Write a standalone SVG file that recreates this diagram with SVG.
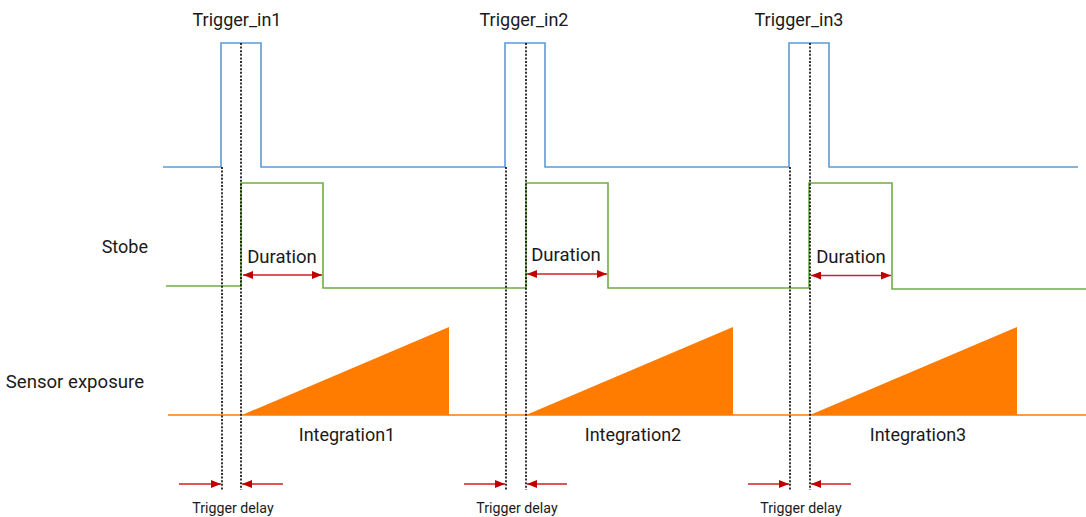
<svg xmlns="http://www.w3.org/2000/svg" width="1086" height="517" viewBox="0 0 1086 517">
<style>
text{font-family:Roboto,"Liberation Sans",sans-serif;fill:#1a1a1a}
.lbl{font-size:18px}
.dur{font-size:18.5px;text-anchor:middle}
.td{font-size:14.2px;text-anchor:middle}
.blue{fill:none;stroke:#5B9BD5;stroke-width:1.6}
.green{fill:none;stroke:#70AD47;stroke-width:1.6}
.orange{fill:none;stroke:#FF7C00;stroke-width:1.6}
.tri{fill:#FF7C00}
.dash{stroke:#000;stroke-width:1.6;stroke-dasharray:2 1.6;fill:none}
.arr{stroke:#D02020;stroke-width:1.4;fill:none}
</style>
<defs>
<marker id="ah" viewBox="0 0 10 8" refX="10" refY="4" markerWidth="10" markerHeight="8" markerUnits="userSpaceOnUse" orient="auto-start-reverse">
<path d="M0,0 L10,4 L0,8 Z" fill="#C00000"/>
</marker>
</defs>
<rect width="1086" height="517" fill="#fff"/>
<g id="trigger-signal">
<path class="blue" d="M163,167 H221 V43 H261 V167 H505 V43 H545 V167 H789 V43 H829 V167 H1078"/>
<text class="lbl" x="237" y="26" text-anchor="middle">Trigger_in1</text>
<text class="lbl" x="524" y="26" text-anchor="middle">Trigger_in2</text>
<text class="lbl" x="799" y="26" text-anchor="middle">Trigger_in3</text>
</g>
<g id="strobe-signal">
<path class="green" d="M166,286 H241 V183 H323 V288 H526 V183 H608 V288 H809 V183 H892 V289 H1086"/>
<text class="lbl" x="148" y="253" text-anchor="end">Stobe</text>
</g>
<g id="exposure-signal">
<line class="orange" x1="168" y1="415" x2="1086" y2="415"/>
<polygon class="tri" points="242,415 449,327 449,415"/>
<polygon class="tri" points="526,415 733,327 733,415"/>
<polygon class="tri" points="810,415 1017,327 1017,415"/>
<text class="lbl" x="144" y="388" text-anchor="end" style="font-size:18.6px">Sensor exposure</text>
<text class="lbl" x="347" y="441" text-anchor="middle">Integration1</text>
<text class="lbl" x="633" y="441" text-anchor="middle">Integration2</text>
<text class="lbl" x="918" y="441" text-anchor="middle">Integration3</text>
</g>
<g id="guides">
<line class="dash" x1="222" y1="167" x2="222" y2="490"/>
<line class="dash" x1="241" y1="43" x2="241" y2="490"/>
<line class="dash" x1="506" y1="167" x2="506" y2="490"/>
<line class="dash" x1="526" y1="43" x2="526" y2="490"/>
<line class="dash" x1="790" y1="167" x2="790" y2="490"/>
<line class="dash" x1="810" y1="43" x2="810" y2="490"/>
</g>
<g id="connectors">
<line class="arr" x1="243" y1="275" x2="322" y2="275" marker-start="url(#ah)" marker-end="url(#ah)"/>
<line class="arr" x1="527" y1="274" x2="607" y2="274" marker-start="url(#ah)" marker-end="url(#ah)"/>
<line class="arr" x1="811" y1="275.5" x2="891" y2="275.5" marker-start="url(#ah)" marker-end="url(#ah)"/>
<line class="arr" x1="179" y1="484" x2="221" y2="484" marker-end="url(#ah)"/>
<line class="arr" x1="283" y1="484" x2="242" y2="484" marker-end="url(#ah)"/>
<line class="arr" x1="464" y1="484" x2="505" y2="484" marker-end="url(#ah)"/>
<line class="arr" x1="567" y1="484" x2="527" y2="484" marker-end="url(#ah)"/>
<line class="arr" x1="748" y1="484" x2="789" y2="484" marker-end="url(#ah)"/>
<line class="arr" x1="851" y1="484" x2="811" y2="484" marker-end="url(#ah)"/>
</g>
<g id="labels">
<text class="dur" x="282" y="262.5">Duration</text>
<text class="dur" x="566" y="261">Duration</text>
<text class="dur" x="851" y="262.5">Duration</text>
<text class="td" x="233" y="513">Trigger delay</text>
<text class="td" x="517" y="513">Trigger delay</text>
<text class="td" x="801" y="513">Trigger delay</text>
</g>
</svg>
